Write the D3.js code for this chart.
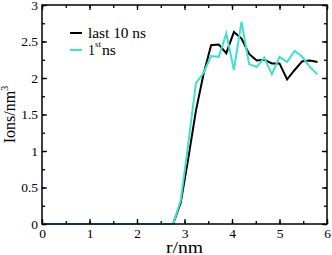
<!DOCTYPE html>
<html>
<head>
<meta charset="utf-8">
<script src="https://cdn.jsdelivr.net/npm/d3@7"></script>
<style>
  body { margin: 0; background: #fff; }
  svg { display: block; }
  text { font-family: "Liberation Serif", "DejaVu Serif", "Times New Roman", serif; fill: #000; }
</style>
</head>
<body>
<div id="chart"></div>
<script>
// radial distance r (nm)
var rValues = [0.04, 0.20, 0.36, 0.52, 0.68, 0.84, 1.00, 1.16, 1.32, 1.48, 1.64, 1.80, 1.96, 2.12,
    2.28, 2.44, 2.60, 2.76, 2.92, 3.08, 3.24, 3.40, 3.56, 3.72, 3.88, 4.04, 4.20, 4.36, 4.52,
    4.68, 4.84, 5.00, 5.16, 5.32, 5.48, 5.64, 5.80];
// ion density, last 10 ns
var last10 = [0, 0, 0, 0, 0, 0, 0, 0, 0, 0, 0, 0, 0, 0, 0, 0, 0, 0,
    0.29, 0.90, 1.55, 2.05, 2.45, 2.46, 2.34, 2.63, 2.54, 2.33, 2.24, 2.25, 2.20, 2.20, 1.98,
    2.11, 2.23, 2.24, 2.22];
// ion density, 1st ns
var first1 = [0, 0, 0, 0, 0, 0, 0, 0, 0, 0, 0, 0, 0, 0, 0, 0, 0, 0,
    0.32, 1.10, 1.93, 2.07, 2.30, 2.29, 2.61, 2.11, 2.77, 2.19, 2.15, 2.28, 2.05, 2.29, 2.22,
    2.37, 2.29, 2.15, 2.05];
var xTicks = [0, 1, 2, 3, 4, 5, 6];
var yTicks = [0, 0.5, 1, 1.5, 2, 2.5, 3];

var width = 332, height = 255;
var margin = {top: 5, right: 5, bottom: 31, left: 42};

var svg = d3.select("#chart").append("svg")
    .attr("width", width)
    .attr("height", height);

var x = d3.scaleLinear().domain([0, 6]).range([margin.left, width - margin.right]);
var y = d3.scaleLinear().domain([0, 3]).range([height - margin.bottom, margin.top]);

var xMinor = d3.range(0, 6.01, 0.5);
var yMinor = d3.range(0, 3.01, 0.25);

// series lines
var line = d3.line()
    .x(function(d) { return x(d[0]); })
    .y(function(d) { return y(d[1]); });

var series = [
    {name: "last 10 ns", color: "#000000", values: last10},
    {name: "1st ns", color: "#40e0d0", values: first1}
];

series.forEach(function(s) {
    svg.append("path")
        .datum(rValues.map(function(r, i) { return [r, s.values[i]]; }))
        .attr("d", line)
        .attr("fill", "none")
        .attr("stroke", s.color)
        .attr("stroke-width", 2);
});

// axes, ticks pointing inward
function styleAxis(g) {
    g.attr("font-family", null);
    g.select(".domain").remove();
    g.selectAll("line").attr("stroke", "#000").attr("stroke-width", 1.3);
}

var y0 = y(0), y3 = y(3), x0 = x(0), x6 = x(6);

svg.append("g").attr("transform", "translate(0," + y0 + ")")
    .call(d3.axisBottom(x).tickValues(xMinor).tickSize(-3).tickFormat("")).call(styleAxis);
svg.append("g").attr("transform", "translate(0," + y0 + ")")
    .call(d3.axisBottom(x).tickValues(xTicks).tickSize(-5)
        .tickFormat(d3.format("d"))).call(styleAxis)
    .selectAll("text").attr("font-size", 13.5).attr("dy", "0.71em")
    .attr("y", 4);
svg.append("g").attr("transform", "translate(0," + y3 + ")")
    .call(d3.axisTop(x).tickValues(xMinor).tickSize(-3).tickFormat("")).call(styleAxis);
svg.append("g").attr("transform", "translate(0," + y3 + ")")
    .call(d3.axisTop(x).tickValues(xTicks).tickSize(-5).tickFormat("")).call(styleAxis);

svg.append("g").attr("transform", "translate(" + x0 + ",0)")
    .call(d3.axisLeft(y).tickValues(yMinor).tickSize(-3).tickFormat("")).call(styleAxis);
svg.append("g").attr("transform", "translate(" + x0 + ",0)")
    .call(d3.axisLeft(y).tickValues(yTicks).tickSize(-5)
        .tickFormat(function(d) { return d; })).call(styleAxis)
    .selectAll("text").attr("font-size", 13.5).attr("x", -4);
svg.append("g").attr("transform", "translate(" + x6 + ",0)")
    .call(d3.axisRight(y).tickValues(yMinor).tickSize(-3).tickFormat("")).call(styleAxis);
svg.append("g").attr("transform", "translate(" + x6 + ",0)")
    .call(d3.axisRight(y).tickValues(yTicks).tickSize(-5).tickFormat("")).call(styleAxis);

svg.selectAll(".tick text").attr("fill", "#000");

// frame
svg.append("rect")
    .attr("x", x0).attr("y", y3)
    .attr("width", x6 - x0).attr("height", y0 - y3)
    .attr("fill", "none").attr("stroke", "#000").attr("stroke-width", 1.5);

// axis labels
svg.append("text")
    .attr("x", (x0 + x6) / 2).attr("y", 253)
    .attr("text-anchor", "middle")
    .attr("font-size", 16)
    .attr("textLength", 37).attr("lengthAdjust", "spacingAndGlyphs")
    .text("r/nm");

var yl = svg.append("text")
    .attr("transform", "translate(15," + ((y0 + y3) / 2) + ") rotate(-90)")
    .attr("text-anchor", "middle")
    .attr("font-size", 16);
yl.append("tspan").text("Ions/nm");
yl.append("tspan").attr("font-size", 10).attr("dy", -7).text("3");

// legend
var leg = svg.append("g");
leg.append("line").attr("x1", 70).attr("x2", 82).attr("y1", 33).attr("y2", 33)
    .attr("stroke", series[0].color).attr("stroke-width", 2);
leg.append("text").attr("x", 88).attr("y", 37.5).attr("font-size", 14)
    .attr("textLength", 58).attr("lengthAdjust", "spacingAndGlyphs")
    .text("last 10 ns");
leg.append("line").attr("x1", 70).attr("x2", 82).attr("y1", 50).attr("y2", 50)
    .attr("stroke", series[1].color).attr("stroke-width", 2);
leg.append("text").attr("x", 88).attr("y", 55).attr("font-size", 14).text("1");
leg.append("text").attr("x", 95).attr("y", 47).attr("font-size", 9).text("st");
leg.append("text").attr("x", 102).attr("y", 55).attr("font-size", 14)
    .attr("textLength", 14).attr("lengthAdjust", "spacingAndGlyphs").text("ns");
</script>
</body>
</html>
